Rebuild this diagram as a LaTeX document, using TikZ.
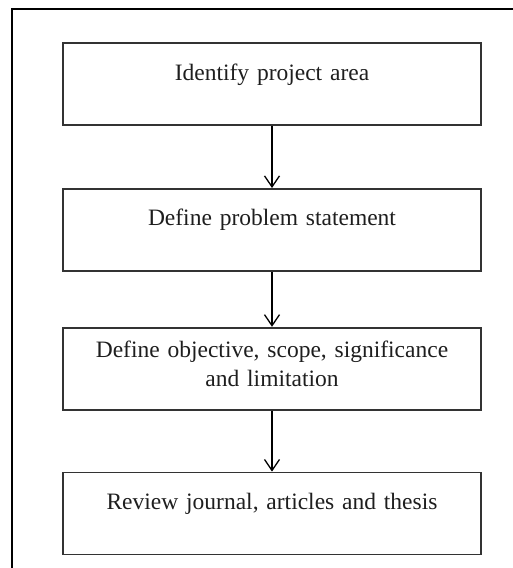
\documentclass[tikz,border=0pt]{standalone}
\usepackage{fontspec}
\setmainfont{Liberation Serif}
\usepackage{xcolor}
\usepackage{tikz}
\usetikzlibrary{arrows.meta, matrix}

\definecolor{boxline}{RGB}{51,51,51}
\definecolor{boxtext}{RGB}{30,30,30}

\begin{document}
\begin{tikzpicture}[
  x=1pt, y=1pt,
  box/.style={
      draw=boxline, line width=1.8pt, text=boxtext,
      minimum width=418pt, text width=400pt, align=center, inner sep=0pt,
      font=\fontsize{23.5}{29}\selectfont,
      text height=37pt, text depth=45pt
  }
]
  \useasboundingbox (0,0) rectangle (513,-568);
  \clip (0,0) rectangle (513,-568);
  \draw[line width=2pt] (12,-600) -- (12,-9) -- (560,-9);
  \matrix (m) [
      matrix of nodes,row sep=57pt,inner sep=0pt,
      nodes={box}, anchor=north
  ] at (272,-42) {
    Identify project area \\[5pt]
    Define problem statement \\[-2pt]
    |[text height=30pt, text depth=52pt]|
      {Define objective, scope, significance\\and limitation} \\[4pt]
    Review journal, articles and thesis \\
  };
  \path[-{Straight Barb[length=11pt, width=15pt]}, line width=1.3pt]
    (m-1-1) edge node {} (m-2-1)
    (m-2-1) edge node {} (m-3-1)
    (m-3-1) edge node {} (m-4-1);
\end{tikzpicture}
\end{document}
